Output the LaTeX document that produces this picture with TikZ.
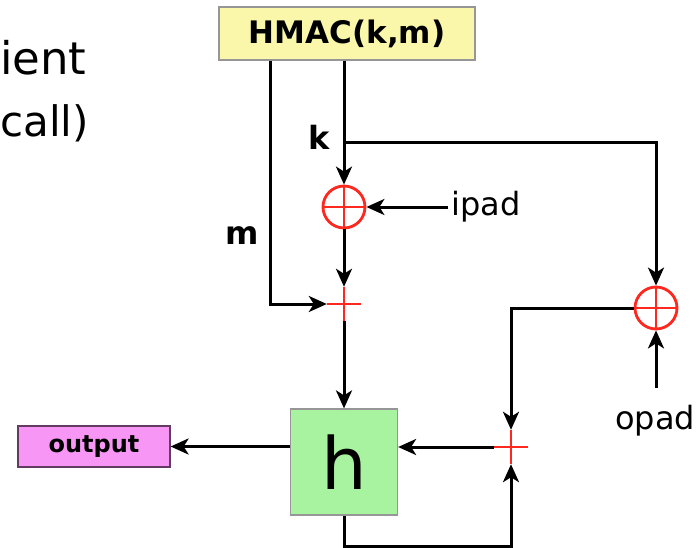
\documentclass[tikz,border=0pt]{standalone}
\usepackage{fontspec}
\setmainfont{DejaVu Sans}
\usetikzlibrary{arrows.meta,positioning}
\definecolor{hmacyellow}{RGB}{250,247,170}
\definecolor{hashgreen}{RGB}{168,243,160}
\definecolor{outpink}{RGB}{247,150,245}
\definecolor{xorred}{RGB}{255,40,30}
\definecolor{boxgray}{RGB}{150,150,150}

\begin{document}
\begin{tikzpicture}[x=1pt, y=-1pt,
        block/.style={draw=boxgray, line width=1.2pt, inner sep=0pt},
        arrow/.style={-{Stealth[length=18pt,width=16pt,inset=5pt]}, line width=3pt},
        xor/.style={circle, draw=xorred, line width=2.8pt, minimum size=42pt, inner sep=0pt,
                    path picture={\draw[xorred, line width=2.2pt]
                        (path picture bounding box.north) -- (path picture bounding box.south)
                        (path picture bounding box.west) -- (path picture bounding box.east);}},
        joint/.style={minimum size=34pt, inner sep=0pt,
                    path picture={\draw[xorred, line width=2.4pt]
                        (path picture bounding box.north) -- (path picture bounding box.south)
                        (path picture bounding box.west) -- (path picture bounding box.east);}},
        lbl/.style={font=\fontsize{32}{38}\selectfont},
    ]
        \useasboundingbox (0,0) rectangle (698,548);

        % Slide text
        \node[anchor=base west, inner sep=0pt, font=\fontsize{45}{54}\selectfont] (ient) at (0,75) {ient};
        \node[anchor=base west, inner sep=0pt, font=\fontsize{42}{50}\selectfont] (call) at (0,137) {call)};

        % Nodes
        \node[block, fill=hmacyellow, minimum width=256pt, minimum height=53pt,
              font=\fontsize{31}{36}\selectfont\bfseries] (hmac) at (347,33.5) {HMAC(k,m)};
        \node[xor] (xorI) at (344,207) {};
        \node[joint] (j1) at (344,304) {};
        \node[block, fill=hashgreen, minimum width=107pt, minimum height=106pt,
              font=\fontsize{72}{80}\selectfont] (hbox) at (344,462) {h};
        \node[block, draw=black!60!outpink, fill=outpink, minimum width=152pt, minimum height=41pt,
              font=\fontsize{24}{28}\selectfont\bfseries] (output) at (94,446.5) {output};
        \node[xor] (xorO) at (656,308) {};
        \node[joint] (j2) at (511,447) {};

        \node[lbl, anchor=west] (ipad) at (448,207) {ipad};
        \node[lbl] (opad) at (655,421) {opad};
        \node[lbl, font=\fontsize{32}{38}\selectfont\bfseries] (klbl) at (319,137) {k};
        \node[lbl, font=\fontsize{32}{38}\selectfont\bfseries] (mlbl) at (242,236) {m};

        \coordinate (mcol) at (270,0);
        \coordinate (kb) at (344,143);
        \coordinate (opadin) at (656,388);

        % Arrows
        \draw[arrow] (hmac.south -| xorI.north) -- (xorI.north);
        \draw[arrow] (kb) -| (xorO.north);
        \draw[arrow] (hmac.south -| mcol) |- (j1.west);
        \draw[arrow] (ipad.west) -- (xorI.east);
        \draw[arrow] (xorI.south) -- (j1.north);
        \draw[arrow] (j1.south) -- (hbox.north);
        \draw[arrow] (xorO.west) -| (j2.north);
        \draw[arrow] (opadin) -- (xorO.south);
        \draw[arrow] (j2.west) -- (j2.west -| hbox.east);
        \draw[arrow] (hbox.west |- output.east) -- (output.east);
        \draw[arrow] (hbox.south) -- ++(0,31) -| (j2.south);
    \end{tikzpicture}
\end{document}
